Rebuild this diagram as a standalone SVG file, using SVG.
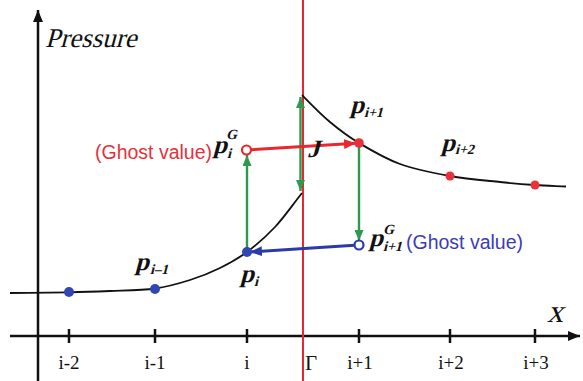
<svg xmlns="http://www.w3.org/2000/svg" width="583" height="381" viewBox="0 0 583 381">
<style>
.axis{stroke:#111;stroke-width:2.5;fill:none}
.curve{stroke:#111;stroke-width:1.8;fill:none}
.serif{font-family:"Liberation Serif","Times New Roman",serif;fill:#111}
.tick{font-size:19px;text-anchor:middle}
.p{font-family:"Liberation Serif","Times New Roman",serif;font-weight:bold;font-size:25px;fill:#111}
.sub{font-family:"Liberation Serif","Times New Roman",serif;font-weight:bold;font-size:14px;fill:#111}
.ghost{font-family:"Liberation Sans",Arial,sans-serif;font-size:19.5px}
.green{stroke:#2e9a4e;stroke-width:2.4;fill:none}
.red{stroke:#e8282e;stroke-width:3;fill:none}
.blue{stroke:#2c3aa8;stroke-width:3;fill:none}
.bdot{fill:#3146b4}
.rdot{fill:#e8323a}
</style>
<defs>
<marker id="ah" viewBox="0 0 12 10" refX="12" refY="5" markerWidth="12" markerHeight="10" markerUnits="userSpaceOnUse" orient="auto-start-reverse"><path d="M0,0 L12,5 L0,10 z" fill="#111"/></marker>
<marker id="ag" viewBox="0 0 11 9" refX="11" refY="4.5" markerWidth="11" markerHeight="9" markerUnits="userSpaceOnUse" orient="auto-start-reverse"><path d="M0,0 L11,4.5 L0,9 z" fill="#2e9a4e"/></marker>
<marker id="ar" viewBox="0 0 12 10" refX="12" refY="5" markerWidth="12" markerHeight="10" markerUnits="userSpaceOnUse" orient="auto"><path d="M0,0 L12,5 L0,10 z" fill="#e8282e"/></marker>
<marker id="ab" viewBox="0 0 12 10" refX="12" refY="5" markerWidth="12" markerHeight="10" markerUnits="userSpaceOnUse" orient="auto"><path d="M0,0 L12,5 L0,10 z" fill="#2c3aa8"/></marker>
</defs>
<rect width="583" height="381" fill="#fff"/>
<g id="axes">
<line class="axis" x1="38" y1="381" x2="38" y2="10" marker-end="url(#ah)"/>
<line class="axis" x1="10" y1="336" x2="580" y2="336" marker-end="url(#ah)"/>
<g class="axis">
<line x1="69" y1="329" x2="69" y2="343"/>
<line x1="155" y1="329" x2="155" y2="343"/>
<line x1="247" y1="329" x2="247" y2="343"/>
<line x1="359" y1="329" x2="359" y2="343"/>
<line x1="450" y1="329" x2="450" y2="343"/>
<line x1="535" y1="329" x2="535" y2="343"/>
</g>
<g class="serif tick">
<text x="69" y="369">i-2</text>
<text x="155" y="369">i-1</text>
<text x="247" y="369">i</text>
<text x="360" y="369">i+1</text>
<text x="451" y="369">i+2</text>
<text x="536" y="369">i+3</text>
</g>
<text class="serif" x="305" y="370" font-size="21">Γ</text>
<text class="serif" transform="translate(547,322) skewX(-15)" font-size="32">x</text>
<text class="serif" transform="translate(45,47) skewX(-15)" font-size="27" fill="#222">Pressure</text>
</g>
<g id="interface">
<line x1="303" y1="0" x2="303" y2="381" stroke="#e8282e" stroke-width="2"/>
</g>
<g id="curves">
<path class="curve" d="M10,293 C30,292.8 52.3,292.6 69,292.3 C85.7,292 95.7,291.6 110,291 C124.3,290.4 141.7,290.3 155,288.5 C168.3,286.7 179.2,283.4 190,280 C200.8,276.6 210.5,272.7 220,268 C229.5,263.3 237.8,258.8 247,252 C256.2,245.2 265.8,236.8 275,227 C284.2,217.2 293,204.3 302,193"/>
<path class="curve" d="M302,95 C311.3,104.5 320.5,114 330,122 C339.5,130 347.3,136 359,143 C370.7,150 384.8,158.5 400,164 C415.2,169.5 433.3,173 450,176 C466.7,179 485.8,180.5 500,182 C514.2,183.5 524,184.25 535,185 C546,185.75 555.7,186 566,186.5"/>
</g>
<g id="connectors">
<line class="green" x1="300.5" y1="97" x2="300.5" y2="191" marker-start="url(#ag)" marker-end="url(#ag)"/>
<line class="green" x1="247" y1="250" x2="247" y2="155" marker-end="url(#ag)"/>
<line class="green" x1="359" y1="147" x2="359" y2="241" marker-end="url(#ag)"/>
<line class="red" x1="251" y1="149.7" x2="356" y2="143.3" marker-end="url(#ar)"/>
<line class="blue" x1="354.5" y1="245.3" x2="250" y2="252" marker-end="url(#ab)"/>
</g>
<g id="p_im2"><circle class="bdot" cx="69" cy="292" r="5"/></g>
<g id="p_im1"><circle class="bdot" cx="155" cy="289" r="5"/>
<text class="p" transform="translate(135,270) skewX(-15)">p</text><text class="sub" transform="translate(150,274) skewX(-15)">i–1</text></g>
<g id="p_i"><circle class="bdot" cx="247" cy="252" r="5"/>
<text class="p" transform="translate(240,282) skewX(-15)">p</text><text class="sub" transform="translate(254,286) skewX(-15)">i</text></g>
<g id="p_i_ghost"><circle cx="246.5" cy="150" r="4.5" fill="#fff" stroke="#e8282e" stroke-width="2.2"/>
<text class="ghost" x="95" y="159" fill="#e8303a">(Ghost value)</text>
<text class="p" transform="translate(213,153) skewX(-15)">p</text><text class="sub" transform="translate(227,158) skewX(-15)">i</text><text class="sub" transform="translate(226,139) skewX(-15)" font-size="13">G</text></g>
<g id="p_ip1"><circle class="rdot" cx="359" cy="143" r="4.8"/>
<text class="p" transform="translate(350,113) skewX(-15)">p</text><text class="sub" transform="translate(364,117) skewX(-15)">i+1</text></g>
<g id="p_ip2"><circle class="rdot" cx="450" cy="176" r="4.5"/>
<text class="p" transform="translate(441,151) skewX(-15)">p</text><text class="sub" transform="translate(455,154) skewX(-15)" font-size="13">i+2</text></g>
<g id="p_ip3"><circle class="rdot" cx="535" cy="185" r="4.5"/></g>
<g id="p_ip1_ghost"><circle cx="359" cy="245" r="4.5" fill="#fff" stroke="#2c3aa8" stroke-width="2.2"/>
<text class="p" transform="translate(369,246) skewX(-15)">p</text><text class="sub" transform="translate(383,251) skewX(-15)">i+1</text><text class="sub" transform="translate(383,234) skewX(-15)" font-size="13">G</text>
<text class="ghost" x="406" y="249" fill="#3c3cb4">(Ghost value)</text></g>
<g id="jump"><text class="p" transform="translate(307,157) skewX(-15)" font-size="21">J</text></g>
</svg>
